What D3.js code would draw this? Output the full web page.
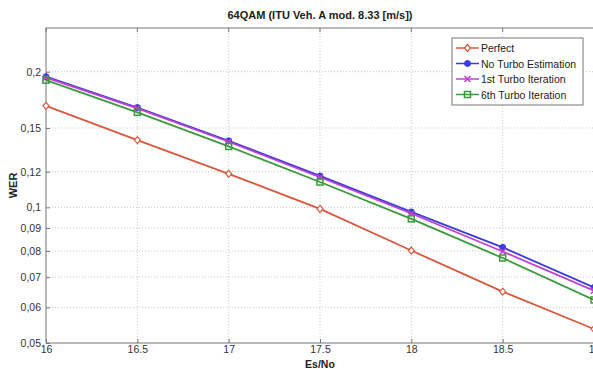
<!DOCTYPE html>
<html lang="en">
<head>
    <meta charset="utf-8" />
    <style>
        body {margin:0; background:#fff;}
        svg {display:block; font-family: "Liberation Sans", Arial, sans-serif;}
        .grid line {stroke:#c8c8c8; stroke-dasharray:1,2;}
        .axis path, .axis line {stroke:#777;}
        .axis text {fill:#333; font-size:10.5px;}
    </style>
    <script src="https://cdn.jsdelivr.net/npm/d3@7"></script>
</head>
<body>
    <svg></svg>
</body>
<script>
    var width = 593,
        height = 369,
        margin = {top: 28, right: -1, bottom: 26, left: 46};

    var esno = [16, 16.5, 17, 17.5, 18, 18.5, 19];
    var perfect = [0.168, 0.141, 0.1187, 0.0992, 0.0802, 0.0650, 0.0537];
    var noTurbo = [0.195, 0.1665, 0.1405, 0.1174, 0.0977, 0.0815, 0.0664];
    var turbo1 = [0.194, 0.1658, 0.1398, 0.1166, 0.0969, 0.0798, 0.0653];
    var turbo6 = [0.1915, 0.1625, 0.1365, 0.1138, 0.0943, 0.0772, 0.0623];

    var xTicks = [16, 16.5, 17, 17.5, 18, 18.5, 19];
    var yTicks = [0.05, 0.06, 0.07, 0.08, 0.09, 0.1, 0.12, 0.15, 0.2];
    var yLabels = ["0,05", "0,06", "0,07", "0,08", "0,09", "0,1", "0,12", "0,15", "0,2"];

    var series = [
        {name: "Perfect", values: perfect, color: "#d9583c", marker: "diamond"},
        {name: "No Turbo Estimation", values: noTurbo, color: "#3c3cdc", marker: "circle"},
        {name: "1st Turbo Iteration", values: turbo1, color: "#c040d0", marker: "cross"},
        {name: "6th Turbo Iteration", values: turbo6, color: "#3c9a3c", marker: "square"}
    ];

    var svg = d3.select("svg").attr("width", width).attr("height", height);

    var x = d3.scaleLinear().domain([16, 19]).range([margin.left, width - margin.right]);
    var y = d3.scaleLog().domain([0.05, 0.25]).range([height - margin.bottom, margin.top]);

    // grid
    var grid = svg.append("g").attr("class", "grid");
    grid.selectAll(".v").data(xTicks.slice(1)).enter().append("line")
        .attr("x1", function(d) {return x(d)}).attr("x2", function(d) {return x(d)})
        .attr("y1", y.range()[0]).attr("y2", y.range()[1]);
    grid.selectAll(".h").data(yTicks.slice(1)).enter().append("line")
        .attr("x1", x.range()[0]).attr("x2", x.range()[1])
        .attr("y1", function(d) {return y(d)}).attr("y2", function(d) {return y(d)});

    // box
    svg.append("rect")
        .attr("x", x.range()[0]).attr("y", margin.top)
        .attr("width", x.range()[1] - x.range()[0]).attr("height", y.range()[0] - margin.top)
        .attr("fill", "none").attr("stroke", "#777");

    svg.append("g").attr("class", "axis")
        .attr("transform", "translate(0," + y.range()[0] + ")")
        .call(d3.axisBottom(x).tickValues(xTicks).tickSize(-4).tickPadding(3)
            .tickFormat(function(d) {return d}))
        .call(function(g) {g.select(".domain").remove()});

    svg.append("g").attr("class", "axis")
        .attr("transform", "translate(" + x.range()[0] + ",0)")
        .call(d3.axisLeft(y).tickValues(yTicks).tickSize(-4).tickPadding(5)
            .tickFormat(function(d, i) {return yLabels[i]}))
        .call(function(g) {g.select(".domain").remove()});

    // top ticks
    svg.append("g").selectAll("line").data(xTicks).enter().append("line")
        .attr("x1", function(d) {return x(d)}).attr("x2", function(d) {return x(d)})
        .attr("y1", margin.top).attr("y2", margin.top + 4).attr("stroke", "#777");

    var line = d3.line()
        .x(function(d, i) {return x(esno[i])})
        .y(function(d) {return y(d)});

    function drawMarker(g, type, color) {
        if (type == "diamond") {
            g.append("path").attr("d", "M0,-3.5L3,0L0,3.5L-3,0Z")
                .attr("fill", "#fff").attr("stroke", color).attr("stroke-width", 1.2);
        } else if (type == "circle") {
            g.append("circle").attr("r", 3).attr("fill", color).attr("stroke", color);
        } else if (type == "cross") {
            g.append("path").attr("d", "M-3,-3L3,3M-3,3L3,-3")
                .attr("stroke", color).attr("stroke-width", 1.5);
        } else {
            g.append("rect").attr("x", -3).attr("y", -3).attr("width", 6).attr("height", 6)
                .attr("fill", "none").attr("stroke", color).attr("stroke-width", 1.5);
        }
    }

    series.forEach(function(s) {
        svg.append("path")
            .attr("d", line(s.values))
            .attr("fill", "none")
            .attr("stroke", s.color)
            .attr("stroke-width", 1.8);
        s.values.forEach(function(v, i) {
            var g = svg.append("g").attr("transform", "translate(" + x(esno[i]) + "," + y(v) + ")");
            drawMarker(g, s.marker, s.color);
        });
    });

    // legend
    var legend = svg.append("g").attr("transform", "translate(452,38)");
    legend.append("rect").attr("width", 131).attr("height", 67)
        .attr("fill", "#fff").attr("stroke", "#777");
    series.forEach(function(s, i) {
        var g = legend.append("g").attr("transform", "translate(0," + (10 + i * 15.5) + ")");
        g.append("line").attr("x1", 4).attr("x2", 27).attr("stroke", s.color).attr("stroke-width", 1.5);
        drawMarker(g.append("g").attr("transform", "translate(15.5,0)"), s.marker, s.color);
        g.append("text").attr("x", 29).attr("y", 4)
            .attr("font-size", "10.5px").attr("fill", "#222").text(s.name);
    });

    svg.append("text")
        .attr("x", (x.range()[0] + x.range()[1]) / 2).attr("y", 19)
        .attr("text-anchor", "middle").attr("font-size", "11px").attr("font-weight", "bold")
        .attr("fill", "#222")
        .text("64QAM (ITU Veh. A mod. 8.33 [m/s])");

    svg.append("text")
        .attr("x", (x.range()[0] + x.range()[1]) / 2).attr("y", 368)
        .attr("text-anchor", "middle").attr("font-size", "10.5px").attr("font-weight", "bold")
        .attr("fill", "#222").text("Es/No");

    svg.append("text")
        .attr("transform", "translate(17," + ((margin.top + y.range()[0]) / 2) + ") rotate(-90)")
        .attr("text-anchor", "middle").attr("font-size", "11px").attr("font-weight", "bold")
        .attr("fill", "#222").text("WER");
</script>
</html>
